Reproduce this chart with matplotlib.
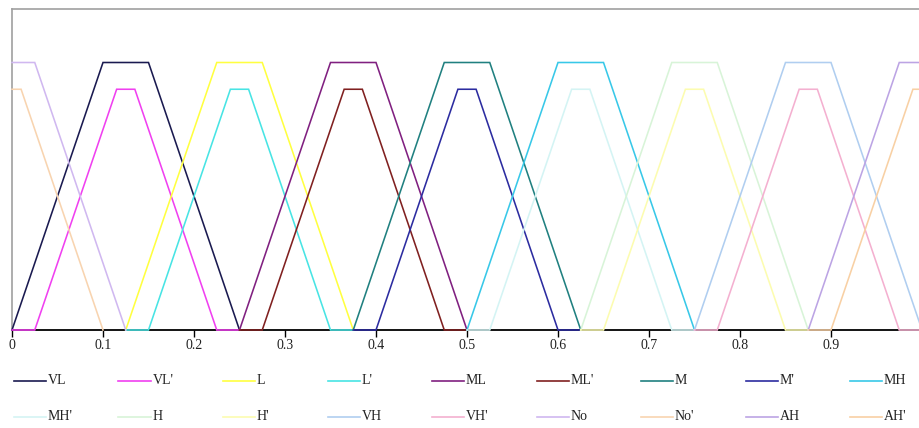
import numpy as np
import matplotlib
matplotlib.use("Agg")
import matplotlib.pyplot as plt
from matplotlib.lines import Line2D

# series names in legend order (upper MF, then its lower MF)
nombres = ["VL", "VL'", "L", "L'", "ML", "ML'", "M", "M'", "MH",
           "MH'", "H", "H'", "VH", "VH'", "No", "No'", "AH", "AH'"]

# x / y vertices of each membership function
xs = {
    "VL":  [0.0, 0.1, 0.15, 0.25],
    "VL'": [0.0, 0.025, 0.115, 0.135, 0.225, 0.25],
    "L":   [0.125, 0.225, 0.275, 0.375],
    "L'":  [0.125, 0.15, 0.24, 0.26, 0.35, 0.375],
    "ML":  [0.25, 0.35, 0.4, 0.5],
    "ML'": [0.25, 0.275, 0.365, 0.385, 0.475, 0.5],
    "M":   [0.375, 0.475, 0.525, 0.625],
    "M'":  [0.375, 0.4, 0.49, 0.51, 0.6, 0.625],
    "MH":  [0.5, 0.6, 0.65, 0.75],
    "MH'": [0.5, 0.525, 0.615, 0.635, 0.725, 0.75],
    "H":   [0.625, 0.725, 0.775, 0.875],
    "H'":  [0.625, 0.65, 0.74, 0.76, 0.85, 0.875],
    "VH":  [0.75, 0.85, 0.9, 1.0],
    "VH'": [0.75, 0.775, 0.865, 0.885, 0.975, 1.0],
    "No":  [0.0, 0.025, 0.125],
    "No'": [0.0, 0.01, 0.1],
    "AH":  [0.875, 0.975, 1.0],
    "AH'": [0.875, 0.9, 0.99, 1.0],
}
ys = {
    "VL":  [0, 1, 1, 0],
    "VL'": [0, 0, 0.9, 0.9, 0, 0],
    "L":   [0, 1, 1, 0],
    "L'":  [0, 0, 0.9, 0.9, 0, 0],
    "ML":  [0, 1, 1, 0],
    "ML'": [0, 0, 0.9, 0.9, 0, 0],
    "M":   [0, 1, 1, 0],
    "M'":  [0, 0, 0.9, 0.9, 0, 0],
    "MH":  [0, 1, 1, 0],
    "MH'": [0, 0, 0.9, 0.9, 0, 0],
    "H":   [0, 1, 1, 0],
    "H'":  [0, 0, 0.9, 0.9, 0, 0],
    "VH":  [0, 1, 1, 0],
    "VH'": [0, 0, 0.9, 0.9, 0, 0],
    "No":  [1, 1, 0],
    "No'": [0.9, 0.9, 0],
    "AH":  [0, 1, 1],
    "AH'": [0, 0, 0.9, 0.9],
}

colores = ["#1a1a50", "#f040f0", "#ffff40", "#48e4e4", "#802080", "#802020",
           "#208080", "#2c2ca0", "#38c8e8", "#d4f4f4", "#d8f4d8", "#fcfcb0",
           "#b0cef0", "#f4b0d0", "#d0b8f0", "#f8d4b0", "#bca4e4", "#f8d0a4"]

ticks = [0, 0.1, 0.2, 0.3, 0.4, 0.5, 0.6, 0.7, 0.8, 0.9]
tick_labels = ["0", "0.1", "0.2", "0.3", "0.4", "0.5", "0.6", "0.7", "0.8", "0.9"]

plt.rcParams["font.family"] = ["Liberation Serif", "DejaVu Serif"]

fig = plt.figure(figsize=(9.19, 4.28), dpi=100)
ax = fig.add_axes([12 / 919, 98 / 428, 910 / 919, 321 / 428])

for nombre, color in zip(nombres, colores):
    ax.plot(xs[nombre], ys[nombre], color=color, lw=1.15, zorder=3,
            solid_joinstyle="miter", clip_on=False)

ax.set_xlim(0, 1)
ax.set_ylim(0, 1.2)
ax.set_yticks([])
ax.set_xticks(ticks)
ax.set_xticklabels(tick_labels, fontsize=10, color="#222222")
ax.tick_params(axis="x", direction="out", length=5, width=1, pad=1.5, color="black")
ax.spines["bottom"].set_color("black")
ax.spines["bottom"].set_linewidth(1.3)
for s in ["left", "top", "right"]:
    ax.spines[s].set_color("#a0a0a0")
    ax.spines[s].set_linewidth(1.2)

# legend, two rows of nine, evenly spaced
x0, paso = 14, 104.5
filas = [381, 417]
for i, (nombre, color) in enumerate(zip(nombres, colores)):
    col, fila = i % 9, i // 9
    xa = x0 + col * paso
    ya = 428 - filas[fila]
    fig.add_artist(Line2D([xa / 919, (xa + 32) / 919], [ya / 428, ya / 428],
                          color=color, lw=1.2, transform=fig.transFigure))
    fig.text((xa + 34) / 919, ya / 428, nombre, fontsize=10, color="#222222",
             va="center", ha="left")

fig.savefig("out.png", dpi=100)
